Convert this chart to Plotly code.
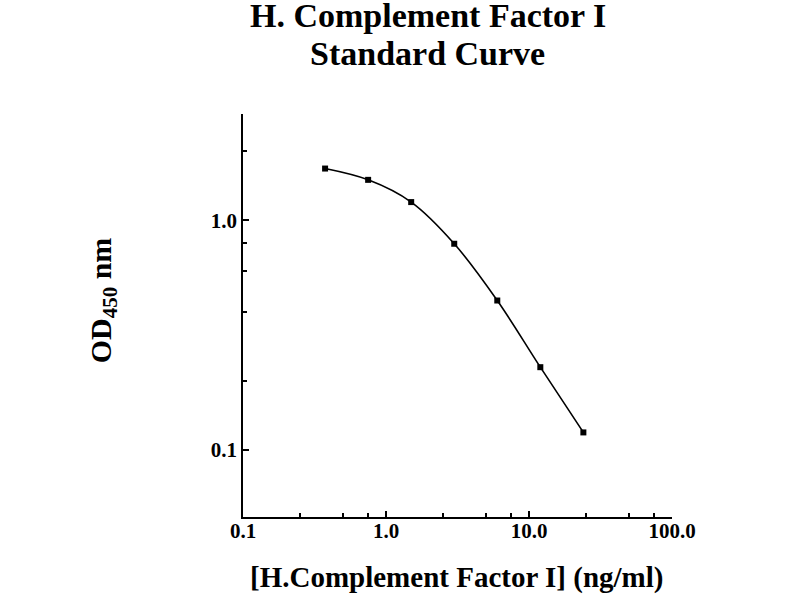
import plotly.graph_objects as go

# Data
concentration = [0.375, 0.75, 1.5, 3, 6, 12, 24]          # ng/ml
od450 = [1.68, 1.50, 1.20, 0.79, 0.447, 0.229, 0.119]

x_tickvals = [0.1, 1, 10, 100]
x_ticktext = ["0.1", "1.0", "10.0", "100.0"]
x_minor = [0.25, 0.5, 0.75, 2.5, 5, 7.5, 25, 50, 75]
y_tickvals = [0.1, 1]
y_ticktext = ["0.1", "1.0"]
y_minor = [0.2, 0.4, 0.6, 0.8, 2.0]

FONT = "Liberation Serif, Times New Roman, serif"

fig = go.Figure()
fig.add_trace(go.Scatter(
    x=concentration, y=od450,
    mode="lines+markers",
    line=dict(color="black", width=1.6, shape="spline", smoothing=1.0),
    marker=dict(color="black", size=6, symbol="square"),
    showlegend=False,
))

axis_common = dict(
    type="log",
    showgrid=False, zeroline=False,
    showline=True, linecolor="black", linewidth=1.6,
    ticks="inside", ticklen=6, tickwidth=1.5, tickcolor="black",
    tickmode="array",
    tickfont=dict(family=FONT, size=21, color="black", weight="bold"),
)

fig.update_xaxes(
    **axis_common,
    range=[-1, 2],
    tickvals=x_tickvals, ticktext=x_ticktext,
    ticklabelstandoff=-6,
    minor=dict(tickmode="array", tickvals=x_minor, ticks="inside",
               ticklen=4, tickwidth=1.5, tickcolor="black", showgrid=False),
)
fig.update_yaxes(
    **axis_common,
    range=[-1.293, 0.463],
    tickvals=y_tickvals, ticktext=y_ticktext,
    minor=dict(tickmode="array", tickvals=y_minor, ticks="inside",
               ticklen=4, tickwidth=1.5, tickcolor="black", showgrid=False),
)

ann_font = dict(family=FONT, color="black", weight="bold")
fig.update_layout(
    width=800, height=600,
    margin=dict(l=243, r=128, t=114, b=83, autoexpand=False),
    paper_bgcolor="white", plot_bgcolor="white",
    font=dict(family=FONT, color="black"),
    annotations=[
        dict(text="H. Complement Factor I", xref="paper", yref="paper",
             x=0.431, y=1.245, xanchor="center", yanchor="middle",
             showarrow=False, font=dict(size=34, **ann_font)),
        dict(text="Standard Curve", xref="paper", yref="paper",
             x=0.431, y=1.149, xanchor="center", yanchor="middle",
             showarrow=False, font=dict(size=34, **ann_font)),
        dict(text="[H.Complement Factor I] (ng/ml)", xref="paper", yref="paper",
             x=0.498, y=-0.151, xanchor="center", yanchor="middle",
             showarrow=False, font=dict(size=29, **ann_font)),
        dict(text="OD<sub>450</sub> nm", xref="paper", yref="paper",
             x=-0.326, y=0.538, xanchor="center", yanchor="middle",
             textangle=-90, showarrow=False, font=dict(size=30, **ann_font)),
    ],
)

fig.write_html("out.html", config={"displayModeBar": False},
               post_script="document.body.style.margin='0';")
